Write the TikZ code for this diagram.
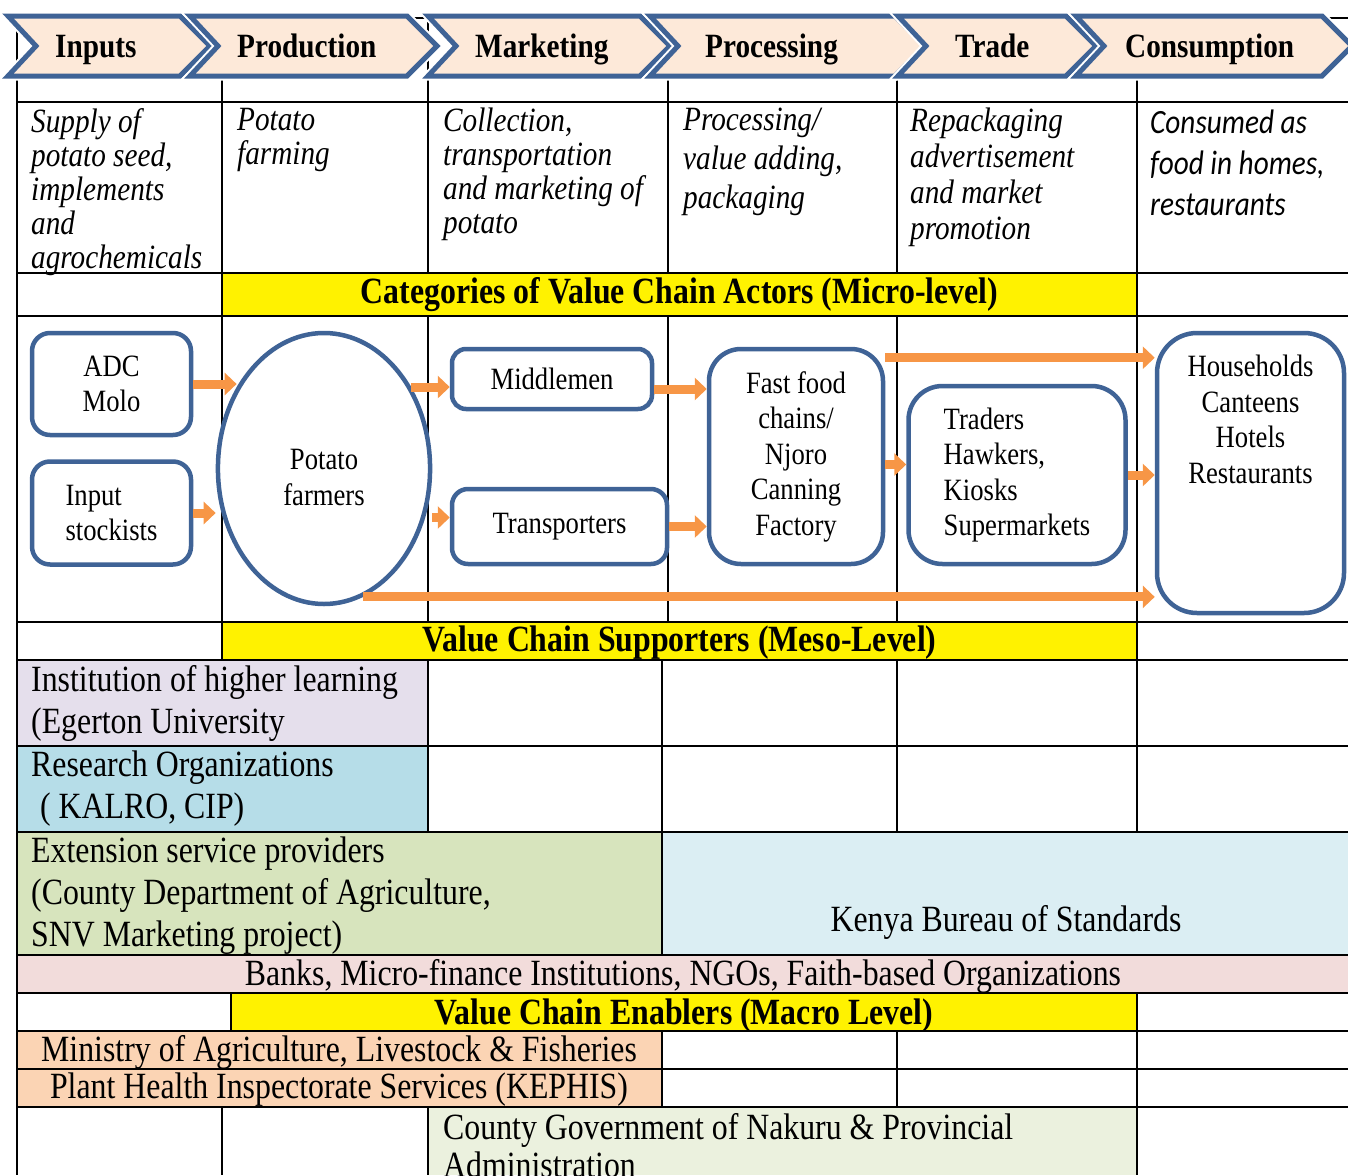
\documentclass[tikz,border=0pt]{standalone}
\usepackage{fontspec}
\setmainfont{Liberation Serif}[FakeStretch=0.86]
\newfontfamily\califont{Carlito}[FakeStretch=0.86]
\usepackage{xcolor}
\usetikzlibrary{shapes,arrows.meta,positioning}

\definecolor{chevfill}{HTML}{FDE9D9}
\definecolor{chevblue}{HTML}{3F6396}
\definecolor{flowor}{HTML}{F79646}
\definecolor{lavcell}{HTML}{E5DFEC}
\definecolor{rescell}{HTML}{B6DDE8}
\definecolor{extcell}{HTML}{D7E4BD}
\definecolor{kebscell}{HTML}{DBEEF3}
\definecolor{bankcell}{HTML}{F2DCDB}
\definecolor{mincell}{HTML}{FBD4B4}
\definecolor{cntycell}{HTML}{EBF1DE}

\begin{document}
\begin{tikzpicture}[
    x=1pt, y=-1pt,
    grid/.style={draw=black, line width=2.4pt},
    chev/.style={draw=chevblue, fill=chevfill, line width=5pt, preaction={draw=white, line width=9pt}},
    chevtext/.style={font=\fontsize{34}{40}\selectfont\bfseries, anchor=base west, inner sep=0},
    desc/.style={font=\fontsize{34}{34}\selectfont\itshape, align=left, anchor=north west, inner sep=0},
    banner/.style={font=\fontsize{37}{42}\selectfont\bfseries, inner sep=0},
    celltext/.style={font=\fontsize{37}{42}\selectfont, align=left, anchor=west, inner sep=0},
    actor/.style={draw=chevblue, line width=4.5pt, rounded corners=18pt, fill=white, align=center, inner sep=0, font=\fontsize{31}{35.5}\selectfont},
    flow/.style={draw=flowor, line width=9pt, -{Triangle[width=22pt,length=12pt]}}
]
    \useasboundingbox (0,0) rectangle (1348,1175);

    % Coloured cells
    \fill[yellow] (222,273) rectangle (1137,316);
    \fill[yellow] (222,622) rectangle (1137,660);
    \fill[lavcell] (17,660) rectangle (428,746);
    \fill[rescell] (17,746) rectangle (428,832);
    \fill[extcell] (17,832) rectangle (662,955);
    \fill[kebscell] (662,832) rectangle (1348,955);
    \fill[bankcell] (17,955) rectangle (1348,993);
    \fill[yellow] (231,993) rectangle (1137,1031);
    \fill[mincell] (17,1031) rectangle (662,1107);
    \fill[cntycell] (428,1107) rectangle (1137,1175);

    % Table rules
    \foreach \y in {18,102,273,316,622,660,746,832,955,993,1031,1069,1107}
        \draw[grid] (17,\y) -- (1348,\y);
    \draw[grid] (17,18) -- (17,1175);
    \draw[grid] (222,18) -- (222,660) (1137,18) -- (1137,660);
    \foreach \x in {428,668,897}
        \draw[grid] (\x,18) -- (\x,273) (\x,316) -- (\x,622);
    \foreach \x in {428,662,897,1137}
        \draw[grid] (\x,660) -- (\x,832);
    \draw[grid] (662,832) -- (662,955);
    \draw[grid] (231,993) -- (231,1031) (1137,993) -- (1137,1031);
    \foreach \x in {662,897,1137}
        \draw[grid] (\x,1031) -- (\x,1107);
    \foreach \x in {222,428,1137}
        \draw[grid] (\x,1107) -- (\x,1175);

    % Stages of the chain
    \foreach \xa/\xb/\xt/\lbl [count=\i] in {8/210/55/Inputs, 190/437/237/Production, 428/670/475/Marketing, 650/925/705/Processing, 898/1096/955/Trade, 1076/1352/1125/Consumption} {
        \draw[chev] (\xa,16) -- (\xb-30,16) -- (\xb,46) -- (\xb-30,76) -- (\xa,76) -- (\xa+28,46) -- cycle;
        \node[chevtext] (stage\i) at (\xt,57) {\lbl};
    }

    % Activities
    \node[desc] (dinp) at (31,108) {Supply of\\potato seed,\\implements\\and\\agrochemicals};
    \node[desc] (dprod) at (237,108) {Potato\\farming};
    \node[desc] (dmark) at (443,108) {Collection,\\transportation\\and marketing of\\potato};
    \node[desc, font=\fontsize{34}{39}\selectfont\itshape] (dproc) at (683,108) {Processing/\\value adding,\\packaging};
    \node[desc, font=\fontsize{34}{36}\selectfont\itshape] (dtrade) at (910,108) {Repackaging\\advertisement\\and market\\promotion};
    \node[desc, font=\fontsize{34}{41}\selectfont\califont\itshape] (dcons) at (1150,110) {Consumed as\\food in homes,\\restaurants};

    % Banners
    \node[banner] (micro) at (679.5,295) {Categories of Value Chain Actors (Micro-level)};
    \node[banner] (meso) at (679.5,643) {Value Chain Supporters (Meso-Level)};
    \node[banner] (macro) at (684,1016) {Value Chain Enablers (Macro Level)};

    % Actors
    \node[actor, minimum width=159, minimum height=102] (adc) at (111.5,384) {ADC\\Molo};
    \node[actor, minimum width=159, minimum height=103, align=left, below=22pt of adc] (ins) {Input\\stockists};
    \node[actor, ellipse, minimum width=206, minimum height=271] (farm) at (324,468.5)
        {\parbox[c][74pt][b]{150pt}{\centering Potato\\farmers}};
    \node[actor, rounded corners=14pt, minimum width=200, minimum height=60] (mid) at (552,379) {Middlemen};
    \node[actor, rounded corners=16pt, minimum width=215, minimum height=75] (trans) at (559.5,526.5) {Transporters};
    \node[actor, rounded corners=32pt, minimum width=174, minimum height=215] (ff) at (796,456.5) {Fast food\\chains/\\Njoro\\Canning\\Factory};
    \node[actor, rounded corners=34pt, minimum width=217, minimum height=178, align=left] (trd) at (1017,475) {Traders\\Hawkers,\\Kiosks\\Supermarkets};
    \node[actor, rounded corners=40pt, minimum width=187, minimum height=280] (hh) at (1250.5,473)
        {\parbox[c][236pt][t]{187pt}{\centering Households\\Canteens\\Hotels\\Restaurants}};

    % Flows
    \coordinate (tin) at ([yshift=9pt]trans.west);
    \coordinate (mout) at ([yshift=-10pt]mid.east);
    \coordinate (fout) at ([yshift=-8pt]ff.east);
    \coordinate (ftop) at ([yshift=-11pt]ff.north east);
    \draw[flow] (adc.east) -- (adc.east -| farm.137);
    \draw[flow] (ins.east) -- (ins.east -| farm.west);
    \draw[flow] (farm.43) -- (farm.43 -| mid.west);
    \draw[flow] (tin -| farm.east) -- (tin);
    \draw[flow] (mout) -- (mout -| ff.west);
    \draw[flow] (trans.east) -- (trans.east -| ff.west);
    \draw[flow] (fout) -- (fout -| trd.west);
    \draw[flow] (ftop) -- (ftop -| hh.west);
    \draw[flow] (trd.east) -- (trd.east -| hh.west);
    \draw[flow] (farm.-73) -- (farm.-73 -| hh.west);

    % Supporters and enablers
    \node[celltext] (ihl) at (31,703) {Institution of higher learning\\(Egerton University};
    \node[celltext] (res) at (31,789) {Research Organizations\\\hspace*{9pt}( KALRO, CIP)};
    \node[celltext] (ext) at (31,896) {Extension service providers\\(County Department of Agriculture,\\SNV Marketing project)};
    \node[celltext, anchor=center] (kebs) at (1006,922) {Kenya Bureau of Standards};
    \node[celltext, anchor=center] (bank) at (683,976) {Banks, Micro-finance Institutions, NGOs, Faith-based Organizations};
    \node[celltext, anchor=center] (mina) at (339,1052) {Ministry of Agriculture, Livestock \& Fisheries};
    \node[celltext, anchor=center] (kephis) at (339,1090) {Plant Health Inspectorate Services (KEPHIS)};
    \node[celltext, font=\fontsize{37}{38}\selectfont] (cnty) at (443,1146) {County Government of Nakuru \& Provincial\\Administration};
\end{tikzpicture}
\end{document}
